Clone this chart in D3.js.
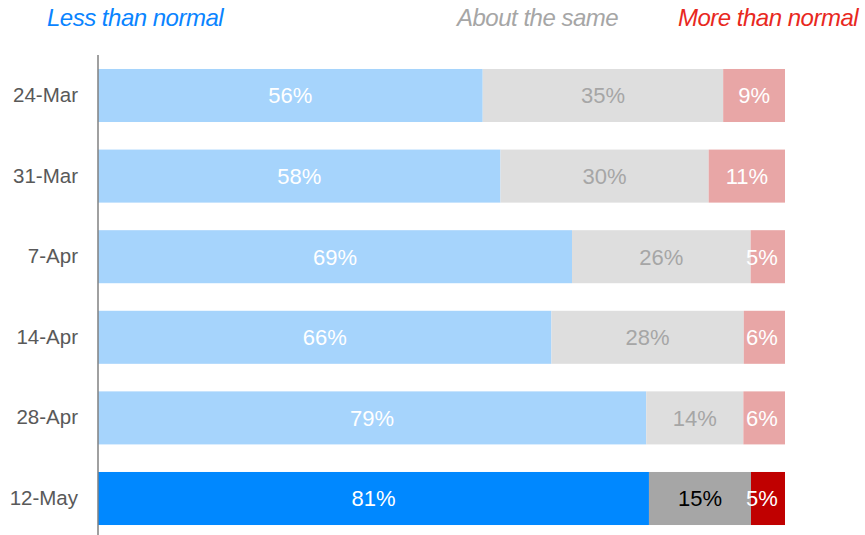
<!DOCTYPE html>
<html><head><meta charset="utf-8">
<script src="https://cdn.jsdelivr.net/npm/d3@7"></script>
<style>body{margin:0;background:#fff}svg{display:block}text{font-family:"Liberation Sans",Arial,sans-serif}</style>
</head><body>
<svg id="c" width="865" height="535"></svg>
<script>
const categories = ["24-Mar","31-Mar","7-Apr","14-Apr","28-Apr","12-May"];
const seriesNames = ["Less than normal","About the same","More than normal"];
const lessValues = [56,58,69,66,79,81];
const sameValues = [35,30,26,28,14,15];
const moreValues = [9,11,5,6,6,5];

const fills = [["#a6d4fc","#dedede","#e8a6a6"],["#0088ff","#a6a6a6","#c00000"]];
const textCols = [["#ffffff","#a6a6a6","#ffffff"],["#ffffff","#000000","#ffffff"]];
const legendCols = ["#0a84ff","#a6a6a6","#e8281e"];

const svg = d3.select("#c");
const x = d3.scaleLinear().domain([0,1]).range([98,785]);
const y = d3.scaleBand().domain(categories).range([55.2,538.8]).paddingInner(0.342).paddingOuter(0.171);

const rows = categories.map((c,i)=>{
  const vals=[lessValues[i],sameValues[i],moreValues[i]];
  const tot=d3.sum(vals);
  let cum=0;
  return vals.map((v,j)=>{const s={cat:c,row:i,j,v,x0:cum/tot,x1:(cum+v)/tot};cum+=v;return s;});
});
const segs = rows.flat();
const hl = i => i===categories.length-1 ? 1 : 0;

svg.append("g").selectAll("rect").data(segs).join("rect")
  .attr("x",d=>x(d.x0)).attr("width",d=>x(d.x1)-x(d.x0))
  .attr("y",d=>y(d.cat)).attr("height",y.bandwidth())
  .attr("fill",d=>fills[hl(d.row)][d.j]);

svg.append("g").selectAll("text").data(segs).join("text")
  .attr("x",d=>Math.min((x(d.x0)+x(d.x1))/2, 785-23))
  .attr("y",d=>y(d.cat)+y.bandwidth()/2)
  .attr("dy","0.36em").attr("text-anchor","middle")
  .attr("font-size",22).attr("fill",d=>textCols[hl(d.row)][d.j])
  .text(d=>d.v+"%");

const ax = svg.append("g").attr("transform","translate(98,0)").call(d3.axisLeft(y).tickSize(0).tickPadding(20));
ax.select(".domain").attr("stroke","#808080").attr("stroke-width",1.5).attr("d","M0,55V535");
ax.selectAll("text").attr("font-size",20.5).attr("fill","#595959").attr("font-family","Liberation Sans, Arial, sans-serif");

const legX=[47,457,678];
svg.append("g").selectAll("text").data(seriesNames).join("text")
  .attr("x",(d,i)=>legX[i]).attr("y",26)
  .attr("font-size",24).attr("font-style","italic").attr("letter-spacing","-0.5")
  .attr("fill",(d,i)=>legendCols[i]).text(d=>d);
</script>
</body></html>
